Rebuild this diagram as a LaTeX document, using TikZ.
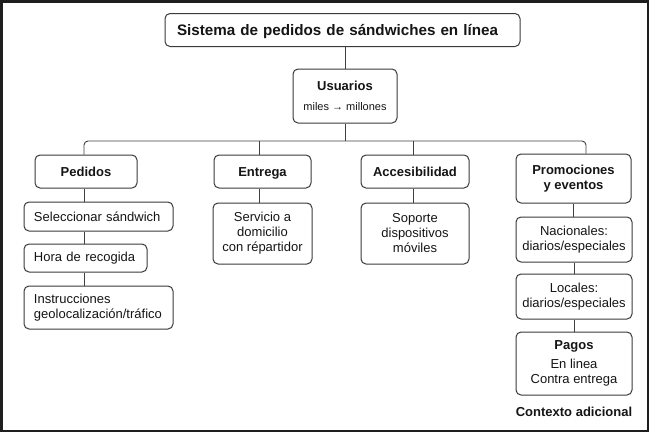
\documentclass[tikz,border=0pt]{standalone}
\usepackage{fontspec}
\setmainfont{Liberation Sans}
\definecolor{boxborder}{HTML}{3A3A3A}
\definecolor{linkline}{HTML}{404040}
\definecolor{framecol}{HTML}{1E1E1E}
\definecolor{textcol}{HTML}{151515}
\tikzset{
  box/.style={rectangle, rounded corners=5pt, draw=boxborder, fill=white, line width=1pt, align=center, inner sep=0pt, text=textcol, font=\fontsize{13}{15}\selectfont},
  titlebox/.style={box, align=left, inner xsep=12pt, text width=331pt, minimum height=33pt, text height=11pt, text depth=0pt, font=\fontsize{15.2}{18}\selectfont\bfseries},
  catbox/.style={box, minimum height=33pt, text height=9.3pt, text depth=0pt, font=\fontsize{13}{15.5}\selectfont\bfseries},
  leftitem/.style={box, align=left, inner xsep=10pt, text width=#1},
  link/.style={draw=linkline, line width=0.9pt},
  note/.style={font=\fontsize{13}{15}\selectfont\bfseries, text=textcol}
}
\begin{document}
\begin{tikzpicture}[x=1pt, y=-1pt]

\useasboundingbox (0,0) rectangle (651,434);
\draw[framecol, line width=2.5pt] (1.3,1.3) rectangle (648,431);

\node[titlebox] (title) at (342.5,30) {Sistema de pedidos de sándwiches en línea};
\node[box, minimum width=104pt, minimum height=54pt] (usuarios) at (345,96)
  {\textbf{Usuarios}\\[5pt]{\fontsize{11}{13}\selectfont miles → millones}};

\node[catbox, minimum width=102pt] (pedidos) at (86,171.5) {Pedidos};
\node[catbox, minimum width=97pt] (entrega) at (262.5,171.5) {Entrega};
\node[catbox, minimum width=108pt] (acces) at (415,171.5) {Accesibilidad};
\node[box, minimum width=115pt, minimum height=49pt, font=\fontsize{13}{15.5}\selectfont\bfseries] (promo) at (573.5,178.5) {Promociones\\y eventos};

\node[leftitem=129pt, minimum height=29pt] (selec) at (98.5,216.5) {Seleccionar sándwich};
\node[leftitem=103pt, minimum height=28pt] (hora) at (85.5,258) {Hora de recogida};
\node[leftitem=129pt, minimum height=43pt] (instr) at (98.5,307.5) {Instrucciones\\geolocalización/tráfico};

\node[box, minimum width=99pt, minimum height=61pt] (servicio) at (262.5,233.5) {Servicio a\\domicilio\\con répartidor};
\node[box, minimum width=108pt, minimum height=61pt] (soporte) at (415,233.5) {Soporte\\dispositivos\\móviles};

\node[box, minimum width=116pt, minimum height=45pt] (nacional) at (574,239.5) {Nacionales:\\diarios/especiales};
\node[box, minimum width=116pt, minimum height=45pt] (locales) at (574,296.5) {Locales:\\diarios/especiales};
\node[box, minimum width=116pt, minimum height=63pt] (pagos) at (574,363.5) {\textbf{Pagos}\\[4pt]En linea\\Contra entrega};
\node[note] (contexto) at (574,412) {Contexto adicional};

\coordinate (busR) at (586,141);

\draw[link] (usuarios.north |- title.south) -- (usuarios.north);
\draw[link] (usuarios.south) -- (usuarios.south |- busR);
\draw[link, rounded corners=4pt] ([xshift=-2pt]pedidos.north) |- (busR) -- (promo.north -| busR);
\draw[link] ([xshift=-3pt]entrega.north) -- ([xshift=-3pt]entrega.north |- busR);
\draw[link] ([xshift=-2pt]acces.north) -- ([xshift=-2pt]acces.north |- busR);

\draw[link] ([xshift=-2pt]pedidos.south) -- ([xshift=-2pt]pedidos.south |- selec.north);
\draw[link] ([xshift=-2pt]pedidos.south |- selec.south) -- ([xshift=-2pt]pedidos.south |- hora.north);
\draw[link] ([xshift=-2pt]pedidos.south |- hora.south) -- ([xshift=-2pt]pedidos.south |- instr.north);
\draw[link] ([xshift=-3pt]entrega.south) -- ([xshift=-3pt]entrega.south |- servicio.north);
\draw[link] ([xshift=-2pt]acces.south) -- ([xshift=-2pt]acces.south |- soporte.north);
\draw[link] (promo.south) -- (promo.south |- nacional.north);
\draw[link] (nacional) -- (locales);
\draw[link] (locales) -- (pagos);

\end{tikzpicture}
\end{document}
